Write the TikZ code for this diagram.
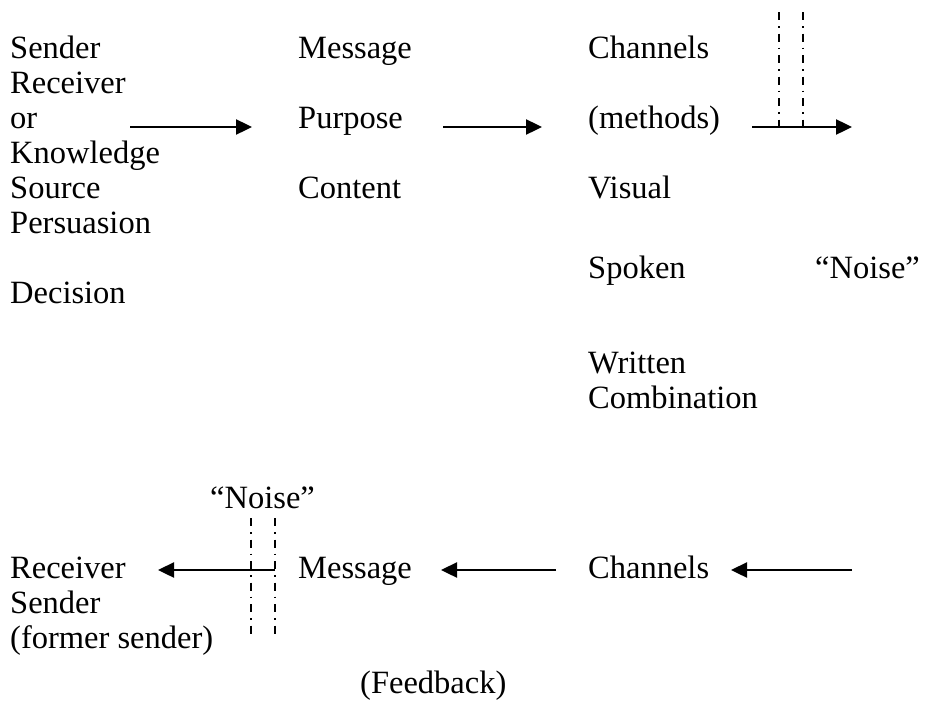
\documentclass[tikz,border=0pt]{standalone}
\usepackage{fontspec}
\setmainfont{Liberation Serif}
\usetikzlibrary{arrows.meta}
\begin{document}
\begin{tikzpicture}[x=1pt,y=-1pt,
    txt/.style={anchor=base west,inner sep=0pt,font=\fontsize{32.5}{38}\selectfont},
    flow/.style={-{Triangle[length=16pt,width=15pt]},line width=2.4pt},
    noiseline/.style={line width=1.3pt,dash pattern=on 8pt off 6pt on 1.5pt off 6pt}]
                \useasboundingbox (0,0) rectangle (928,704);
                \node[txt] (sender) at (10,58) {Sender};
                \node[txt] (receiver) at (10,93) {Receiver};
                \node[txt] (or) at (10,128) {or};
                \node[txt] (knowledge) at (10,163) {Knowledge};
                \node[txt] (source) at (10,198) {Source};
                \node[txt] (persuasion) at (10,233) {Persuasion};
                \node[txt] (decision) at (10,303) {Decision};
                \node[txt] (message) at (298,58) {Message};
                \node[txt] (purpose) at (298,128) {Purpose};
                \node[txt] (content) at (298,198) {Content};
                \node[txt] (channels) at (588,58) {Channels};
                \node[txt] (methods) at (588,128) {(methods)};
                \node[txt] (visual) at (588,198) {Visual};
                \node[txt] (spoken) at (588,278) {Spoken};
                \node[txt] (written) at (588,373) {Written};
                \node[txt] (combination) at (588,408) {Combination};
                \node[txt] (noiseA) at (815,278) {“Noise”};

                \node[txt] (noiseB) at (210,508) {“Noise”};
                \node[txt] (receiverB) at (10,578) {Receiver};
                \node[txt] (senderB) at (10,613) {Sender};
                \node[txt] (former) at (10,648) {(former sender)};
                \node[txt] (messageB) at (298,578) {Message};
                \node[txt] (channelsB) at (588,578) {Channels};
                \node[txt] (feedback) at (360,693) {(Feedback)};

                \coordinate (a1s) at (130,127); \coordinate (a1e) at (252,127);
                \coordinate (a2s) at (443,127); \coordinate (a2e) at (542,127);
                \coordinate (a3s) at (752,127); \coordinate (a3e) at (852,127);
                \coordinate (b1s) at (275,570); \coordinate (b1e) at (158,570);
                \coordinate (b2s) at (556,570); \coordinate (b2e) at (441,570);
                \coordinate (b3s) at (852,570); \coordinate (b3e) at (731,570);

                \draw[flow] (a1s) to (a1e); \draw[flow] (a2s) to (a2e); \draw[flow] (a3s) to (a3e);
                \draw[flow] (b1s) to (b1e); \draw[flow] (b2s) to (b2e); \draw[flow] (b3s) to (b3e);

                \coordinate (n1t) at (779,12); \coordinate (n1b) at (779,131);
                \coordinate (n2t) at (803,12); \coordinate (n2b) at (803,131);
                \coordinate (n3t) at (251,518); \coordinate (n3b) at (251,637);
                \coordinate (n4t) at (275,518); \coordinate (n4b) at (275,637);

                \draw[noiseline] (n1t) to (n1b); \draw[noiseline] (n2t) to (n2b);
                \draw[noiseline] (n3t) to (n3b); \draw[noiseline] (n4t) to (n4b);
            \end{tikzpicture}
\end{document}
